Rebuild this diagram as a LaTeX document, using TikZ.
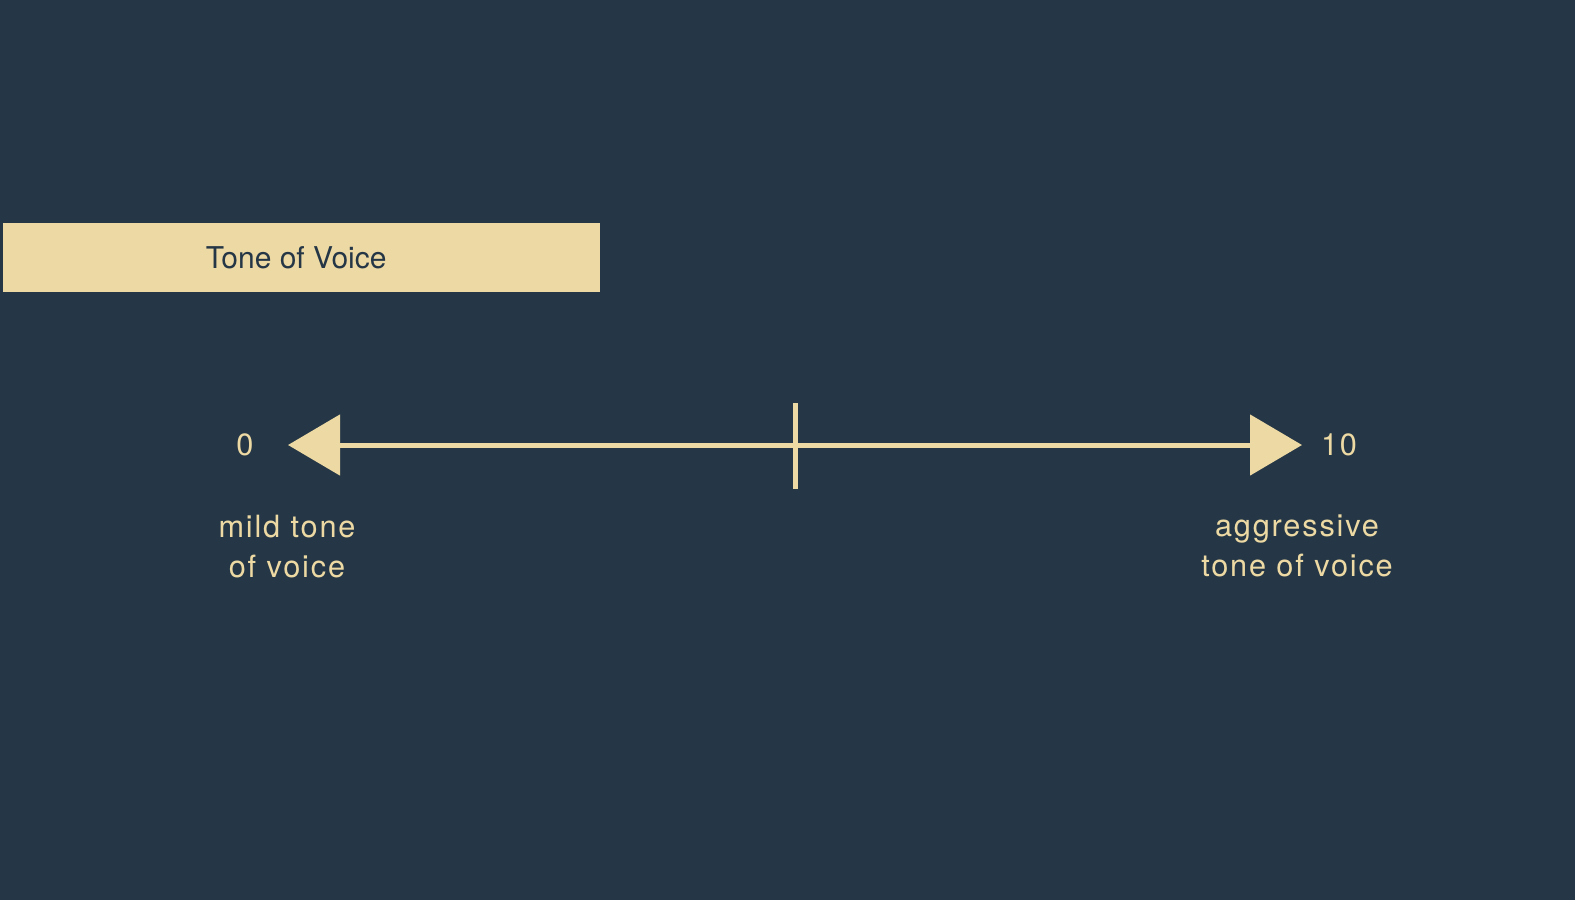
\documentclass[tikz,border=0pt]{standalone}
\usepackage{fontspec}
\setmainfont{TeX Gyre Heros}
\newfontfamily\trackedfont[LetterSpace=6]{TeX Gyre Heros}
\usepackage{xcolor}
\usetikzlibrary{
  arrows.meta,          % triangle tips
  positioning,          % relative node placement
}
\definecolor{slate}{HTML}{253746}
\definecolor{sand}{HTML}{EDD9A3}

\begin{document}
\begin{tikzpicture}[
  x=0.75pt, y=-0.75pt,
  scaletext/.style={text=sand, font=\trackedfont\fontsize{23}{30}\selectfont, align=center, inner sep=0pt},
  titlebox/.style={fill=sand, text=slate, font=\fontsize{22.5}{30}\selectfont,
    minimum width=447.75pt, minimum height=51.75pt, inner sep=0pt},
  scaleline/.style={draw=sand, line width=3.75pt,
    {Triangle[length=39pt, width=45pt]}-{Triangle[length=39pt, width=45pt]}},
]
  % Background
  \fill[slate] (0,0) rectangle (1575,900);
  \useasboundingbox (0,0) rectangle (1575,900);
  % Title
  \node[titlebox] (title) at (301.5,257.5) {\hspace*{-8pt}Tone of Voice};
  % Scale end points and middle tick
  \coordinate (lo) at (288,445);
  \coordinate (hi) at (1302,445);
  \coordinate (midtop) at (795,403);
  \coordinate (midbot) at (795,489);
  \draw[scaleline] (lo) -- (hi);
  \draw[sand, line width=3.75pt] (midtop) -- (midbot);
  % Values
  \node[scaletext] (zero) at (245,445) {0};
  \node[scaletext] (ten) at (1339,445) {10};
  % Descriptions
  \node[scaletext] (mild) at (287,547) {mild tone\\of voice};
  \node[scaletext] (aggr) at (1297,546) {aggressive\\tone of voice};
\end{tikzpicture}
\end{document}
